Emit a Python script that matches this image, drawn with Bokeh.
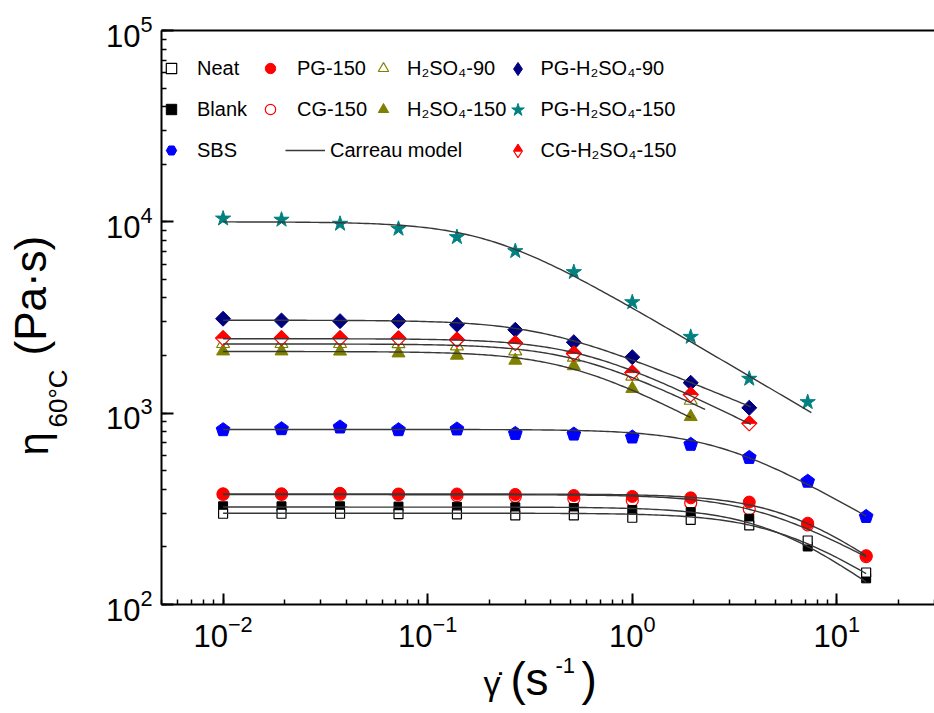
import numpy as np
from bokeh.plotting import figure
from bokeh.models import LogAxis, Label, Legend, LegendItem
from bokeh.layouts import row, column
from bokeh.embed import file_html
from bokeh.resources import INLINE

# ---------------- data ----------------
shear_rate = [0.01, 0.0193, 0.0373, 0.072, 0.139, 0.268, 0.518, 1.0, 1.93, 3.73, 7.2, 13.9]

eta_neat = [298, 298, 298, 297, 296, 292, 292, 284, 277, 259, 216, 147]
eta_blank = [326, 326, 326, 325, 324, 322, 319, 312, 304, 281, 201, 137]
eta_sbs = [818, 828, 845, 818, 825, 782, 776, 749, 686, 586, 440, 288]
eta_pg150 = [379, 379, 381, 378, 378, 376, 371, 367, 361, 343, 266, 180]
eta_cg150 = [376, 376, 377, 375, 371, 367, 357, 350, 339, 316, 261, 178]
eta_h2so4_90 = [2306, 2306, 2306, 2300, 2240, 2109, 1955, 1558, 1165]
eta_h2so4_150 = [2109, 2109, 2105, 2059, 2003, 1886, 1765, 1343, 957]
eta_pg_h2so4_90 = [3116, 3052, 3027, 3027, 2898, 2728, 2350, 1962, 1442, 1067]
eta_pg_h2so4_150 = [10400, 10260, 9770, 9200, 8320, 7030, 5460, 3800, 2505, 1513, 1142]
eta_cg_h2so4_150 = [2466, 2466, 2466, 2460, 2419, 2323, 2050, 1630, 1250, 885]

# Carreau model fit parameters (eta0, lambda, n) and end of fitted range
carreau_eta0 = [300, 323, 822, 378, 375, 2300, 2100, 3060, 10000, 2450]
carreau_lambda = [0.19, 0.21, 0.38, 0.167, 0.24, 1.9, 2.05, 2.8, 5.1, 1.8]
carreau_n = [0.30, 0.20, 0.38, 0.20, 0.40, 0.47, 0.434, 0.56, 0.37, 0.466]
carreau_end = [13.9, 13.9, 13.9, 13.9, 13.9, 2.27, 1.93, 3.8, 7.5, 3.8]

x_start, x_end = 0.005, 30
y_start, y_end = 100, 1e5
FW, FH = 773, 574
FONT = "Liberation Sans"
YT_W = 75          # width of the y-title strip
XT_H = 58          # height of the x-title strip
TOTAL_H = 710

p = figure(x_axis_type="log", y_axis_type="log",
           x_range=(x_start, x_end), y_range=(y_start, y_end),
           frame_width=FW, frame_height=FH,
           min_border_left=161 - YT_W, min_border_right=0, min_border_top=30,
           min_border_bottom=TOTAL_H - XT_H - 30 - FH,
           output_backend="svg", toolbar_location=None,
           background_fill_color="white", border_fill_color="white",
           outline_line_color=None)
p.xgrid.visible = False
p.ygrid.visible = False

for ax in (p.xaxis[0], p.yaxis[0]):
    ax.axis_line_width = 2
    ax.major_tick_in = 12
    ax.major_tick_out = 0
    ax.minor_tick_in = 5
    ax.minor_tick_out = 0
    ax.major_tick_line_width = 2
    ax.minor_tick_line_width = 1.5
    ax.major_label_text_font = FONT
    ax.major_label_text_font_size = "31px"
    ax.major_label_text_color = "black"
p.xaxis.major_tick_in = 11
p.xaxis.major_label_standoff = 10
p.yaxis.major_label_standoff = 9

top = LogAxis(axis_line_width=2, major_tick_in=0, major_tick_out=0,
              minor_tick_in=0, minor_tick_out=0,
              major_label_text_font_size="8px", major_label_text_alpha=0,
              major_label_standoff=0)
p.add_layout(top, "above")

# pixel -> multiplicative factor helpers for marker outlines on log axes
px_dec_x = FW / np.log10(x_end / x_start)
px_dec_y = FH / np.log10(y_end / y_start)

def fxp(dpx):
    return 10 ** (dpx / px_dec_x)

def fyp(dpx):
    return 10 ** (dpx / px_dec_y)

def xs_of(y):
    return shear_rate[:len(y)]

# ---------------- markers ----------------
# SBS: filled pentagons
R_PENT = 7.2
pent_ang = np.pi / 2 + np.arange(5) * 2 * np.pi / 5
xsbs = xs_of(eta_sbs)
p.patches([[x * fxp(R_PENT * np.cos(a)) for a in pent_ang] for x in xsbs],
          [[y * fyp(R_PENT * np.sin(a)) for a in pent_ang] for y in eta_sbs],
          fill_color="#0000FF", line_color="#0000FF", line_width=1)
r_pgs150 = p.scatter(xs_of(eta_pg_h2so4_150), eta_pg_h2so4_150, marker="star", size=16,
                     fill_color="#008080", line_color="#008080")
r_pgs90 = p.scatter(xs_of(eta_pg_h2so4_90), eta_pg_h2so4_90, marker="square", angle=np.pi / 4,
                    size=10.6, fill_color="#000080", line_color="#000080")
r_s90 = p.scatter(xs_of(eta_h2so4_90), eta_h2so4_90, marker="triangle", size=13,
                  fill_color="white", line_color="#808000", line_width=1.2)
r_s150 = p.scatter(xs_of(eta_h2so4_150), eta_h2so4_150, marker="triangle", size=13,
                   fill_color="#808000", line_color="#808000")
r_cgs = p.scatter(xs_of(eta_cg_h2so4_150), eta_cg_h2so4_150, marker="square", angle=np.pi / 4,
                  size=10.6, fill_color="white", line_color="#FF0000", line_width=1.2)
# upper filled half of the half-filled diamonds
xc = xs_of(eta_cg_h2so4_150)
p.patches([[x / fxp(7.5), x * fxp(7.5), x] for x in xc],
          [[y, y, y * fyp(7.5)] for y in eta_cg_h2so4_150],
          fill_color="#FF0000", line_color="#FF0000", line_width=1)
r_cg150 = p.scatter(xs_of(eta_cg150), eta_cg150, marker="circle", size=12,
                    fill_color="white", line_color="#FF0000", line_width=1.2)
r_pg150 = p.scatter(xs_of(eta_pg150), eta_pg150, marker="circle", size=12,
                    fill_color="#FF0000", line_color="#FF0000")
r_blank = p.scatter(xs_of(eta_blank), eta_blank, marker="square", size=9,
                    fill_color="black", line_color="black")
r_neat = p.scatter(xs_of(eta_neat), eta_neat, marker="square", size=9,
                   fill_color="white", line_color="black", line_width=1.2)

# ---------------- Carreau model curves ----------------
LINE_COLOR = "#383838"
r_fit = None
for eta0, lam, n, g_end in zip(carreau_eta0, carreau_lambda, carreau_n, carreau_end):
    g = np.logspace(np.log10(shear_rate[0]), np.log10(g_end), 200)
    eta = eta0 * (1 + (lam * g) ** 2) ** ((n - 1) / 2)
    r = p.line(g, eta, line_color=LINE_COLOR, line_width=1.4)
    if r_fit is None:
        r_fit = r

# legend-only (hidden) renderers
leg_sbs = p.scatter(xsbs, eta_sbs, marker="hex", fill_color="#0000FF",
                    line_color="#0000FF", visible=False)
leg_pgs90 = p.scatter(xs_of(eta_pg_h2so4_90), eta_pg_h2so4_90, marker="diamond",
                      fill_color="#000080", line_color="#000080", visible=False)
leg_cgs = p.scatter(xc, eta_cg_h2so4_150, marker="diamond", fill_color="white",
                    line_color="#FF0000", line_width=1.2, visible=False)
leg_half = p.scatter(xc, eta_cg_h2so4_150, marker="triangle", fill_color="#FF0000",
                     line_color="#FF0000", visible=False)

# ---------------- legends ----------------
def make_legend(items, vx, vy, gw=26, gh=30, spacing=11, standoff=13):
    lg = Legend(items=items, location=(vx, vy), orientation="vertical",
                glyph_width=gw, glyph_height=gh, label_height=gh, spacing=spacing,
                label_standoff=standoff, padding=0, margin=0,
                border_line_color=None, background_fill_alpha=0,
                inactive_fill_alpha=0,
                label_text_font=FONT, label_text_font_size="20px",
                label_text_color="black")
    p.add_layout(lg)
    return lg

make_legend([LegendItem(label="Neat", renderers=[r_neat]),
             LegendItem(label="Blank", renderers=[r_blank]),
             LegendItem(label="SBS", renderers=[leg_sbs])], -3, 439, standoff=13)
make_legend([LegendItem(label="PG-150", renderers=[r_pg150]),
             LegendItem(label="CG-150", renderers=[r_cg150])], 96, 480, standoff=14)
make_legend([LegendItem(label="Carreau model", renderers=[r_fit])], 124, 439, gw=40, standoff=5)
make_legend([LegendItem(label="H\u2082SO\u2084-90", renderers=[r_s90]),
             LegendItem(label="H\u2082SO\u2084-150", renderers=[r_s150])], 209, 480, standoff=11)
make_legend([LegendItem(label="PG-H\u2082SO\u2084-90", renderers=[leg_pgs90]),
             LegendItem(label="PG-H\u2082SO\u2084-150", renderers=[r_pgs150]),
             LegendItem(label="CG-H\u2082SO\u2084-150", renderers=[leg_cgs])],
            339.5, 437, gw=33, gh=33, spacing=8, standoff=7)
# filled upper half on the CG-H2SO4-150 legend glyph
half_lg = Legend(items=[LegendItem(label=" ", renderers=[leg_half])],
                 location=(346.5, 446), glyph_width=19, glyph_height=19, label_height=19,
                 padding=0, margin=0, label_standoff=0, border_line_color=None,
                 background_fill_alpha=0, inactive_fill_alpha=0, label_text_font_size="1px")
p.add_layout(half_lg)

# ---------------- axis titles (in their own strips) ----------------
def strip(w, h):
    f = figure(width=w, height=h, x_range=(0, w), y_range=(0, h),
               min_border=0, output_backend="svg", toolbar_location=None,
               x_axis_location=None, y_axis_location=None,
               outline_line_color=None, background_fill_color="white",
               border_fill_color="white")
    f.xgrid.visible = False
    f.ygrid.visible = False
    return f

BASE_K = 0.36   # offset of the alphabetic anchor, in em

def lab(f, text, x, y, size, angle=0.0):
    s = float(size)
    if angle:
        x = x - BASE_K * s
    else:
        y = y + BASE_K * s
    f.add_layout(Label(x=x, y=y, x_units="screen", y_units="screen", text=text,
                       angle=angle, text_font=FONT, text_font_size="%dpx" % s,
                       text_color="black", text_align="left", text_baseline="alphabetic"))

yt = strip(YT_W, TOTAL_H)
lab(yt, "\u03b7", 48, 255, 42, np.pi / 2)
lab(yt, "60\u00b0C", 67, 283, 26, np.pi / 2)
lab(yt, "(Pa\u00b7s)", 46, 355, 44, np.pi / 2)

xt = strip(FW + 161 - YT_W, XT_H)
x0 = 161   # the strip's frame is aligned with the main frame
lab(xt, "\u03b3\u0307", 483 - x0, 15, 34)
lab(xt, "(", 510 - x0, 15, 46)
lab(xt, "s", 525 - x0, 15, 46)
lab(xt, "-1", 555 - x0, 37, 22)
lab(xt, ")", 581 - x0, 15, 46)

layout = row(yt, column(p, xt))
open("out.html", "w").write(file_html(layout, INLINE))
